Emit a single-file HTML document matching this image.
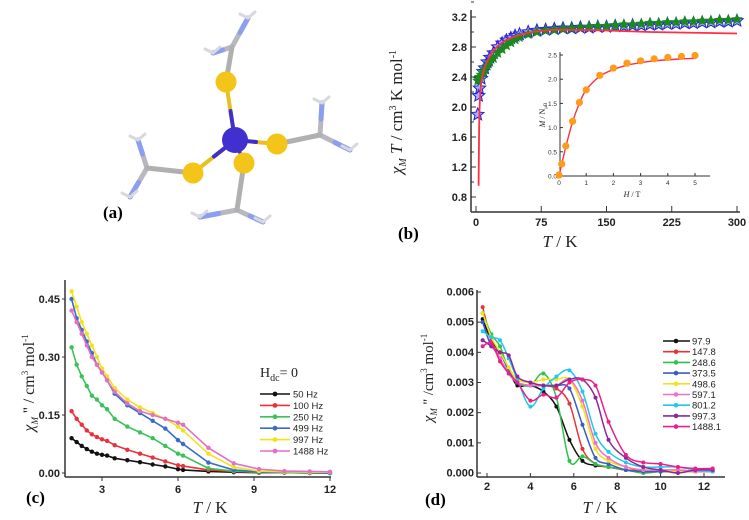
<!DOCTYPE html>
<html><head><meta charset="utf-8"><style>
body{margin:0;background:#fff;width:749px;height:520px;overflow:hidden}
svg{display:block;font-family:"Liberation Sans",sans-serif}
.tk{font-size:11px;font-weight:bold;fill:#222}
.ser{font-family:"Liberation Serif",serif}
</style></head><body>
<svg id="fig" width="749" height="520" viewBox="0 0 749 520">
<g id="mol"></g>
<text x="103" y="218" class="ser" font-size="17" font-weight="bold">(a)</text>
<text x="398" y="239" class="ser" font-size="17" font-weight="bold">(b)</text>
<text x="26" y="503" class="ser" font-size="17" font-weight="bold">(c)</text>
<text x="425" y="505" class="ser" font-size="17" font-weight="bold">(d)</text>
<g id="pb"></g>
<g id="pc"></g>
<g id="pd"></g>
</svg>
<script>
// ---- Panel b data ----
const bTemps=[2,3,4,6,8,10,13,16,20,25,30,35,40,45,50,60,70,80,90,100,110,120,130,140,150,160,170,180,190,200,210,220,230,240,250,260,270,280,290,300];
const bBlue=[1.9,2.15,2.25,2.38,2.47,2.52,2.6,2.66,2.72,2.8,2.85,2.89,2.92,2.95,2.97,3.0,3.02,3.03,3.04,3.05,3.05,3.06,3.06,3.07,3.07,3.08,3.08,3.09,3.09,3.1,3.1,3.11,3.11,3.12,3.12,3.13,3.13,3.14,3.14,3.15];
const bGreen=[2.35,2.37,2.4,2.43,2.46,2.5,2.55,2.6,2.65,2.72,2.77,2.82,2.86,2.9,2.93,2.97,3.0,3.02,3.03,3.04,3.05,3.06,3.07,3.08,3.08,3.09,3.1,3.1,3.11,3.12,3.12,3.13,3.13,3.14,3.14,3.15,3.15,3.16,3.16,3.17];
const bFitT=[3,3.5,4,5,6,8,10,15,20,30,40,60,80,100,150,200,250,300];
const bFit=[0.95,1.6,1.95,2.2,2.32,2.45,2.53,2.66,2.75,2.86,2.92,2.99,3.02,3.03,3.02,3.0,2.99,2.98];
const bYTicks=[0.8,1.2,1.6,2.0,2.4,2.8,3.2];
const bXTicks=[0,75,150,225,300];
const inH=[0,0.1,0.25,0.5,0.75,1,1.5,2,2.5,3,3.5,4,4.5,5];
const inM=[0.02,0.25,0.62,1.13,1.52,1.78,2.08,2.23,2.33,2.38,2.42,2.45,2.47,2.49];
const inFitH=[0,0.25,0.5,0.75,1,1.5,2,2.5,3,3.5,4,4.5,5];
const inFit=[0,0.6,1.12,1.5,1.78,2.06,2.2,2.29,2.34,2.38,2.4,2.42,2.43];
const inYTicks=[0.0,0.5,1.0,1.5,2.0,2.5];
const inXTicks=[0,1,2,3,4,5];
// ---- Panel c data ----
const cTemps=[1.8,2,2.2,2.4,2.6,2.8,3,3.2,3.5,4,4.5,5,5.5,6,6.2,7.2,8.2,9.2,10.2,11.2,12];
const cNames=["50 Hz","100 Hz","250 Hz","499 Hz","997 Hz","1488 Hz"];
const cColors=["#111","#e8333a","#3cc25a","#3a6cc8","#f2e21a","#e070c8"];
const c50=[.09,.08,.07,.062,.055,.05,.047,.045,.038,.033,.028,.022,.017,.01,.008,.004,.002,.001,.001,0,0];
const c100=[.16,.14,.125,.11,.1,.093,.087,.083,.072,.06,.05,.04,.03,.02,.018,.008,.004,.002,.001,.001,0];
const c250=[.325,.28,.25,.225,.2,.19,.175,.165,.14,.12,.105,.09,.07,.05,.045,.012,.005,.002,.001,0,0];
const c499=[.45,.4,.37,.34,.31,.28,.26,.24,.205,.175,.155,.135,.115,.085,.075,.027,.008,.003,.002,.001,0];
const c997=[.47,.43,.39,.36,.33,.3,.27,.25,.22,.19,.17,.155,.14,.12,.11,.05,.015,.005,.003,.002,.002];
const c1488=[.42,.39,.36,.33,.3,.28,.26,.24,.21,.18,.16,.15,.14,.13,.125,.065,.025,.01,.005,.004,.003];
const cYTicks=[0,0.15,0.30,0.45];
const cYLabels=["0.00","0.15","0.30","0.45"];
const cXTicks=[3,6,9,12];
// ---- Panel d data ----
const dTemps=[1.8,2.2,2.6,3,3.4,4,4.6,5.2,5.8,6.4,7,7.6,8.4,9.2,10,10.8,11.6,12.4];
const dNames=["97.9","147.8","248.6","373.5","498.6","597.1","801.2","997.3","1488.1"];
const dColors=["#111","#e8333a","#2fc24a","#3a5cc8","#f2e21a","#f070c8","#22c8e8","#8a2a9a","#e8208a"];
const d979=[5.1,4.4,4.0,3.4,2.9,2.9,2.7,2.2,1.1,0.4,0.25,0.2,0.1,0.05,0.05,0.05,0.05,0.05];
const d1478=[5.5,4.4,3.8,3.3,3.0,2.9,2.9,2.8,2.3,0.8,0.3,0.2,0.1,0.1,0.05,0.05,0.05,0.1];
const d2486=[5.3,4.6,4.2,3.4,3.0,2.9,3.3,2.5,0.4,0.55,0.3,0.2,0.1,0.0,0.05,0.05,0.05,0.05];
const d3735=[5.0,4.2,4.0,3.4,3.0,2.9,2.9,2.9,2.8,1.6,0.5,0.3,0.1,0.05,0.05,0.1,0.05,0.05];
const d4986=[5.3,4.5,4.0,3.5,3.1,3.0,3.1,3.1,3.1,2.2,0.8,0.4,0.2,0.1,0.1,0.05,0.05,0.05];
const d5971=[4.4,4.2,3.8,3.3,3.0,2.9,2.9,2.9,3.1,2.4,1.0,0.5,0.2,0.1,0.1,0.1,0.05,0.05];
const d8012=[4.7,4.5,4.4,3.8,3.1,2.2,2.8,3.2,3.4,2.7,1.3,0.7,0.35,0.2,0.2,0.2,0.1,0.05];
const d9973=[4.4,4.2,4.0,3.9,3.2,3.0,2.9,2.9,3.1,3.1,2.5,1.1,0.5,0.2,0.1,0.0,0.1,0.1];
const d14881=[4.2,4.3,3.7,3.3,3.0,2.4,2.6,2.5,3.0,3.1,2.9,1.7,0.6,0.35,0.3,0.2,0.15,0.15];
const dYTicks=[0,0.001,0.002,0.003,0.004,0.005,0.006];
const dXTicks=[2,4,6,8,10,12];

const NS="http://www.w3.org/2000/svg";
function mk(parent,tag,attrs,text){const e=document.createElementNS(NS,tag);for(const k in attrs)e.setAttribute(k,attrs[k]);if(text!==undefined)e.textContent=text;parent.appendChild(e);return e;}
function lin(d0,d1,r0,r1){return v=>r0+(v-d0)*(r1-r0)/(d1-d0);}
function smooth(pts){let d="M"+pts[0][0]+","+pts[0][1];for(let i=0;i<pts.length-1;i++){const p0=pts[Math.max(0,i-1)],p1=pts[i],p2=pts[i+1],p3=pts[Math.min(pts.length-1,i+2)];d+=" C"+(p1[0]+(p2[0]-p0[0])/6)+","+(p1[1]+(p2[1]-p0[1])/6)+" "+(p2[0]-(p3[0]-p1[0])/6)+","+(p2[1]-(p3[1]-p1[1])/6)+" "+p2[0]+","+p2[1];}return d;}
function star(cx,cy,r){let p=[];for(let i=0;i<10;i++){const a=-Math.PI/2+i*Math.PI/5,rr=i%2?r*0.45:r;p.push((cx+rr*Math.cos(a)).toFixed(1)+","+(cy+rr*Math.sin(a)).toFixed(1));}return p.join(" ");}

// ---- Molecule ----
(function(){
const g=document.getElementById('mol');
const co=[235,140],S=[[226,82],[193,173],[277,144],[244,163]];
const C=[[232,47],[147,168],[320,135],[237,210]];
const N=[[[248,18],[213,53]],[[138,140],[130,197]],[[322,103],[350,150]],[[200,217],[263,222]]];
const bond=(a,b,col,w)=>mk(g,'line',{x1:a[0],y1:a[1],x2:b[0],y2:b[1],stroke:col,'stroke-width':w,'stroke-linecap':'round'});
for(let i=0;i<4;i++){
 for(const n of N[i]){bond(C[i],n,'#b8b8c0',5);bond([(C[i][0]+n[0])/2,(C[i][1]+n[1])/2],n,'#8c9ef0',5);
  bond(n,[n[0]-8,n[1]-4],'#d8d8e0',3);bond(n,[n[0]+7,n[1]-6],'#d8d8e0',3);}
 bond(S[i],C[i],'#b0b0b0',5);bond(S[i],co,'#e8c020',4);bond([(S[i][0]+co[0])/2,(S[i][1]+co[1])/2],co,'#4030c8',4);
}
for(const s of S){const c=mk(g,'circle',{cx:s[0],cy:s[1],r:10.5,fill:'#f2c518'});

}
const cc=mk(g,'circle',{cx:co[0],cy:co[1],r:13,fill:'#4030d0'});


})();

// ---- Panel b ----
(function(){
const g=document.getElementById('pb');
const X=lin(0,300,476,737),Y=lin(0.8,3.2,197,17);
mk(g,'line',{x1:471,y1:10,x2:471,y2:212,stroke:'#333','stroke-width':1.5});
mk(g,'line',{x1:471,y1:212,x2:740,y2:212,stroke:'#333','stroke-width':1.5});
bYTicks.forEach(v=>{mk(g,'line',{x1:471,y1:Y(v),x2:476,y2:Y(v),stroke:'#333'});mk(g,'line',{x1:471,y1:Y(v+0.2),x2:474,y2:Y(v+0.2),stroke:'#333'});
 const t=mk(g,'text',{x:467,y:Y(v)+4,'text-anchor':'end',class:'tk'},v.toFixed(1));
 
 });
bXTicks.forEach(v=>{mk(g,'line',{x1:X(v),y1:212,x2:X(v),y2:206,stroke:'#333'});
 const t=mk(g,'text',{x:X(v),y:226,'text-anchor':'middle',class:'tk'},v);
 
 });
const yt=mk(g,'text',{transform:'translate(402,112) rotate(-90)','text-anchor':'middle',class:'ser','font-size':17,fill:'#222'});
yt.innerHTML='<tspan font-style="italic">χ</tspan><tspan font-size="10" font-style="italic" dy="4">M</tspan><tspan font-style="italic" dy="-4"> T</tspan> / cm<tspan font-size="10" dy="-6">3</tspan><tspan dy="6"> K mol</tspan><tspan font-size="10" dy="-6">-1</tspan>';


const xt=mk(g,'text',{x:560,y:247,class:'ser','font-size':17,'text-anchor':'middle',fill:'#222'});
xt.innerHTML='<tspan font-style="italic">T</tspan> / K';


bTemps.forEach((t,i)=>{const s=mk(g,'polygon',{points:star(X(t),Y(bBlue[i]),6.5),fill:'#5560ff',stroke:'#2020d0','stroke-width':1,'fill-opacity':0.5});
 
 });
bTemps.forEach((t,i)=>{const s=mk(g,'polygon',{points:star(X(t),Y(bGreen[i]),6),fill:'#1a8a1a'});
 
 });
const fp=mk(g,'path',{d:smooth(bFitT.map((t,i)=>[X(t),Y(bFit[i])])),fill:'none',stroke:'#ff3040','stroke-width':1.8});


// inset
const IX=lin(0,5,559,695),IY=lin(0,2.5,176,55);
mk(g,'rect',{x:555,y:52,width:158,height:128,fill:'#fff'});
mk(g,'line',{x1:560,y1:52,x2:560,y2:176,stroke:'#333'});
mk(g,'line',{x1:560,y1:176,x2:710,y2:176,stroke:'#333'});
inYTicks.forEach(v=>{mk(g,'line',{x1:560,y1:IY(v),x2:563,y2:IY(v),stroke:'#333'});
 const t=mk(g,'text',{x:557,y:IY(v)+2.5,'text-anchor':'end','font-size':6.5,fill:'#333'},v.toFixed(1));
 
 });
inXTicks.forEach(v=>{mk(g,'line',{x1:IX(v),y1:176,x2:IX(v),y2:173,stroke:'#333'});
 const t=mk(g,'text',{x:IX(v),y:185,'text-anchor':'middle','font-size':6.5,fill:'#333'},v);
 
 });
const it=mk(g,'text',{transform:'translate(545,115) rotate(-90)','text-anchor':'middle',class:'ser','font-size':8,fill:'#222'});
it.innerHTML='<tspan font-style="italic">M</tspan> / N<tspan font-size="5" dy="2">μB</tspan>';


const ix=mk(g,'text',{x:632,y:197,'text-anchor':'middle',class:'ser','font-size':8,fill:'#222'});
ix.innerHTML='<tspan font-style="italic">H</tspan> / T';


const ip=mk(g,'path',{d:smooth(inFitH.map((h,i)=>[IX(h),IY(inFit[i])])),fill:'none',stroke:'#ff3040','stroke-width':1.4});


inH.forEach((h,i)=>{const c=mk(g,'circle',{cx:IX(h),cy:IY(inM[i]),r:3.6,fill:'#ff9a1a'});
 
 });
})();

// ---- Panel c ----
(function(){
const g=document.getElementById('pc');
const X=lin(3,12,102,330),Y=lin(0,0.45,473,299);
const series=[c50,c100,c250,c499,c997,c1488];
mk(g,'line',{x1:65,y1:280,x2:65,y2:477,stroke:'#333','stroke-width':1.5});
mk(g,'line',{x1:65,y1:477,x2:331,y2:477,stroke:'#333','stroke-width':1.5});
cYTicks.forEach((v,i)=>{mk(g,'line',{x1:62,y1:Y(v),x2:65,y2:Y(v),stroke:'#333'});
 const t=mk(g,'text',{x:60,y:Y(v)+4,'text-anchor':'end',class:'tk','font-size':12},cYLabels[i]);
 
 });
cXTicks.forEach(v=>{mk(g,'line',{x1:X(v),y1:477,x2:X(v),y2:481,stroke:'#333'});
 const t=mk(g,'text',{x:X(v),y:493,'text-anchor':'middle',class:'tk','font-size':12},v);
 
 });
const yt=mk(g,'text',{transform:'translate(34,383) rotate(-90)','text-anchor':'middle',class:'ser','font-size':16,fill:'#222'});
yt.innerHTML='<tspan font-style="italic">χ</tspan><tspan font-size="9" font-style="italic" dy="4">M</tspan><tspan dy="-4"> \'\' / cm</tspan><tspan font-size="9" dy="-6">3</tspan><tspan dy="6"> mol</tspan><tspan font-size="9" dy="-6">-1</tspan>';


const xt=mk(g,'text',{x:210,y:513,class:'ser','font-size':17,'text-anchor':'middle',fill:'#222'});
xt.innerHTML='<tspan font-style="italic">T</tspan> / K';


series.forEach((s,k)=>{const pl=mk(g,'polyline',{points:cTemps.map((t,i)=>X(t)+","+Y(s[i])).join(" "),fill:'none',stroke:cColors[k],'stroke-width':1.6});
 
 
 cTemps.forEach((t,i)=>{const c=mk(g,'circle',{cx:X(t),cy:Y(s[i]),r:2.2,fill:cColors[k]});
  
  });});
const lh=mk(g,'text',{x:260,y:377,class:'ser','font-size':14,fill:'#222'});
lh.innerHTML='H<tspan font-size="10" dy="4">dc</tspan><tspan dy="-4">= 0</tspan>';


cNames.forEach((n,k)=>{const y=394+k*11.4;
 mk(g,'line',{x1:260,y1:y,x2:290,y2:y,stroke:cColors[k],'stroke-width':1.6});
 mk(g,'circle',{cx:275,cy:y,r:2.4,fill:cColors[k]});
 const t=mk(g,'text',{x:293,y:y+3.5,'font-size':9.5,fill:'#222'},n);
 
 });
})();

// ---- Panel d ----
(function(){
const g=document.getElementById('pd');
const X=lin(2,12,487,704),Y=lin(0,0.006,473,292);
const series=[d979,d1478,d2486,d3735,d4986,d5971,d8012,d9973,d14881];
mk(g,'line',{x1:477,y1:290,x2:477,y2:477,stroke:'#333','stroke-width':1.5});
mk(g,'line',{x1:477,y1:477,x2:725,y2:477,stroke:'#333','stroke-width':1.5});
dYTicks.forEach(v=>{mk(g,'line',{x1:477,y1:Y(v),x2:481,y2:Y(v),stroke:'#333'});
 const t=mk(g,'text',{x:474,y:Y(v)+3.5,'text-anchor':'end',class:'tk','font-size':10},v.toFixed(3));
 
 });
dXTicks.forEach(v=>{mk(g,'line',{x1:X(v),y1:477,x2:X(v),y2:473,stroke:'#333'});
 const t=mk(g,'text',{x:X(v),y:490,'text-anchor':'middle',class:'tk','font-size':10},v);
 
 });
const yt=mk(g,'text',{transform:'translate(433,378) rotate(-90)','text-anchor':'middle',class:'ser','font-size':15,fill:'#222'});
yt.innerHTML='<tspan font-style="italic">χ</tspan><tspan font-size="9" font-style="italic" dy="4">M</tspan><tspan dy="-4"> \'\' /cm</tspan><tspan font-size="9" dy="-6">3</tspan><tspan dy="6"> mol</tspan><tspan font-size="9" dy="-6">-1</tspan>';


const xt=mk(g,'text',{x:600,y:513,class:'ser','font-size':17,'text-anchor':'middle',fill:'#222'});
xt.innerHTML='<tspan font-style="italic">T</tspan> / K';


series.forEach((s,k)=>{const p=mk(g,'path',{d:smooth(dTemps.map((t,i)=>[X(t),Y(s[i]/1000)])),fill:'none',stroke:dColors[k],'stroke-width':1.5});
 
 
 dTemps.forEach((t,i)=>{const c=mk(g,'circle',{cx:X(t),cy:Y(s[i]/1000),r:2,fill:dColors[k]});
  
  });});
dNames.forEach((n,k)=>{const y=341+k*10.7;
 mk(g,'line',{x1:663,y1:y,x2:690,y2:y,stroke:dColors[k],'stroke-width':1.6});
 mk(g,'circle',{cx:676,cy:y,r:2.3,fill:dColors[k]});
 const t=mk(g,'text',{x:692,y:y+3.5,'font-size':9.5,fill:'#222'},n);
 
 });
})();
</script>
</body></html>
